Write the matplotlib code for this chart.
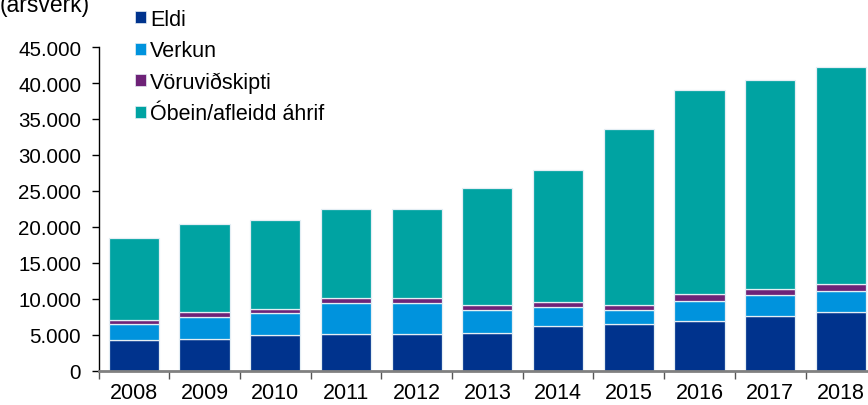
import matplotlib
matplotlib.use("Agg")
import matplotlib.pyplot as plt
import numpy as np
from matplotlib.ticker import FuncFormatter, MultipleLocator
from matplotlib.patches import Patch

plt.rcParams['font.family'] = ['Liberation Sans', 'DejaVu Sans']

years = ['2008', '2009', '2010', '2011', '2012', '2013', '2014', '2015', '2016', '2017', '2018']
eldi = [4350, 4500, 5000, 5100, 5100, 5250, 6200, 6500, 6950, 7600, 8150]
verkun = [2150, 2950, 3000, 4350, 4350, 3200, 2650, 1950, 2800, 2900, 2950]
voruvidskipti = [550, 700, 600, 650, 650, 700, 800, 700, 900, 850, 950]
obein = [11450, 12300, 12350, 12350, 12350, 16300, 18200, 24400, 28350, 29050, 30200]

series_names = ['Eldi', 'Verkun', 'Vöruviðskipti', 'Óbein/afleidd áhrif']
colors = ['#00338D', '#0093DD', '#6E2277', '#00A3A2']

fig = plt.figure(figsize=(8.68, 4.06), dpi=100)
ax = fig.add_axes([98.5 / 868, 1 - 372 / 406, 777.7 / 868, (372 - 48) / 406])

x = np.arange(len(years))
bottom = np.zeros(len(years))
for vals, c in zip([eldi, verkun, voruvidskipti, obein], colors):
    ax.bar(x, vals, width=0.71, bottom=bottom, color=c, edgecolor='#e4eef4', linewidth=0.9)
    bottom += np.array(vals)

ax.set_xlim(-0.5, len(years) - 0.5)
ax.set_ylim(0, 45000)
ax.yaxis.set_major_locator(MultipleLocator(5000))
ax.yaxis.set_major_formatter(FuncFormatter(lambda v, p: f"{int(v):,}".replace(',', '.')))
ax.set_xticks(x)
ax.set_xticklabels(years)
ax.set_xticks(np.arange(-0.5, len(years) + 0.5, 1), minor=True)
ax.tick_params(axis='x', which='major', length=0, labelsize=15.5, pad=8)
ax.tick_params(axis='x', which='minor', length=6, width=1, color='#555555', direction='out')
ax.tick_params(axis='y', which='major', length=5, width=1, labelsize=14.8, direction='out', pad=7.5)

for s in ['top', 'right']:
    ax.spines[s].set_visible(False)
ax.spines['left'].set_color('black')
ax.spines['left'].set_linewidth(1)
ax.spines['bottom'].set_color('#808080')
ax.spines['bottom'].set_linewidth(2)

fig.text(0.0, 1 - 12 / 406, '(ársverk)', fontsize=16.5, ha='left', va='baseline')

handles = [Patch(facecolor=c, edgecolor='#e4eef4', linewidth=0.5) for c in colors]
leg = fig.legend(handles, series_names, loc='upper left', bbox_to_anchor=(135 / 868, 1 - 10 / 406),
                 frameon=False, fontsize=15.5, handlelength=0.5, handleheight=0.5,
                 handletextpad=0.2, labelspacing=0.48, borderpad=0, borderaxespad=0)

fig.savefig('out.png', dpi=100)
